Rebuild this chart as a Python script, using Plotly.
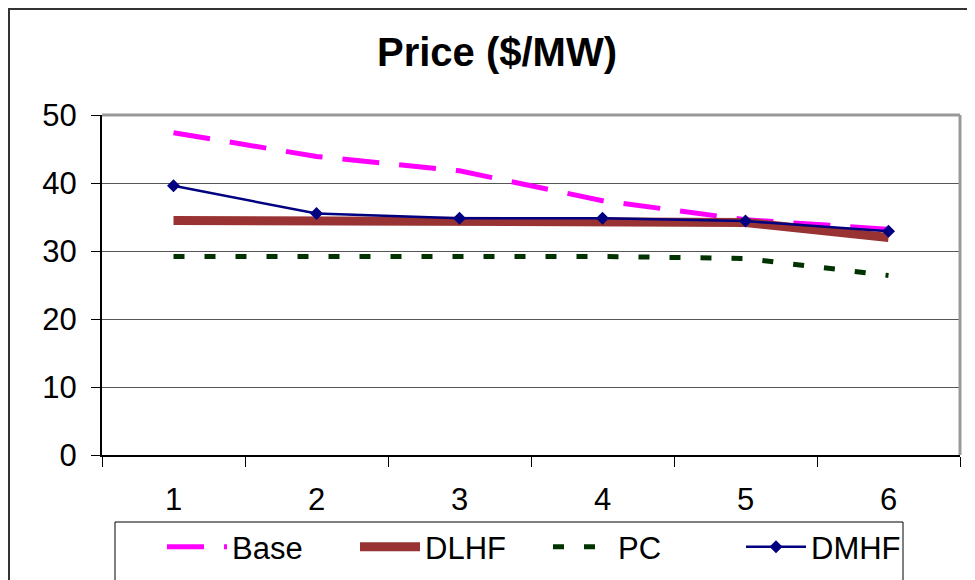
import plotly.graph_objects as go

categories = ["1", "2", "3", "4", "5", "6"]
base = [47.4, 43.9, 41.8, 37.4, 34.6, 33.2]
dlhf = [34.5, 34.5, 34.5, 34.5, 34.2, 32.0]
pc = [29.2, 29.2, 29.2, 29.2, 28.9, 26.4]
dmhf = [39.6, 35.5, 34.8, 34.8, 34.4, 32.9]
y_ticks = [0, 10, 20, 30, 40, 50]

FONT = "Liberation Sans, Arial, sans-serif"

fig = go.Figure()
fig.add_trace(go.Scatter(x=categories, y=base, name="Base", mode="lines",
                         line=dict(color="#FF00FF", width=5, dash="37px,20px")))
fig.add_trace(go.Scatter(x=categories, y=dlhf, name="DLHF", mode="lines",
                         line=dict(color="#993333", width=9)))
fig.add_trace(go.Scatter(x=categories, y=pc, name="PC", mode="lines",
                         line=dict(color="#003300", width=5, dash="11px,20px")))
fig.add_trace(go.Scatter(x=categories, y=dmhf, name="DMHF", mode="lines+markers",
                         line=dict(color="#000080", width=2.5),
                         marker=dict(symbol="diamond", size=10, color="#000080")))

# page has an 8px body margin; figure sized to fill the rest of the window
OFF = 8
W, H = 975 - OFF, 580 - OFF
L, T = 102 - OFF, 115 - OFF
R = W - (960 - OFF)
B = H - (455 - OFF)
pw, ph = W - L - R, H - T - B

def px_x(x):
    return (x - OFF - L) / pw

def px_y(y):
    return (H - B - (y - OFF)) / ph

fig.update_layout(
    width=W, height=H,
    margin=dict(l=L, r=R, t=T, b=B, autoexpand=False),
    paper_bgcolor="white", plot_bgcolor="white",
    font=dict(family=FONT, color="black", size=31),
    title=dict(text="<b>Price ($/MW)</b>", x=(497 - OFF) / W, xanchor="center",
               y=1 - (52 - OFF) / H, yanchor="middle", yref="container",
               font=dict(family=FONT, size=40, color="black")),
    xaxis=dict(type="category", range=[-0.5, 5.5], tickson="boundaries",
               ticks="outside", ticklen=10, tickcolor="black", tickwidth=1,
               showline=True, linecolor="black", linewidth=2, showgrid=False,
               ticklabelstandoff=16, tickfont=dict(size=31)),
    yaxis=dict(range=[0, 50], tickvals=y_ticks, ticks="outside", ticklen=9,
               tickcolor="black", tickwidth=1, showline=True, linecolor="black",
               linewidth=2, showgrid=True, gridcolor="#555555", gridwidth=1,
               zeroline=False, ticklabelstandoff=8, tickfont=dict(size=31)),
    legend=dict(orientation="h", x=px_x(162), y=px_y(520), xanchor="left",
                yanchor="top", bgcolor="rgba(0,0,0,0)", borderwidth=0,
                font=dict(size=31), entrywidth=118, itemwidth=60),
    showlegend=True,
    shapes=[
        # plot area top and right border
        dict(type="line", xref="paper", yref="paper", x0=0, x1=1, y0=1, y1=1,
             line=dict(color="#999999", width=3)),
        dict(type="line", xref="paper", yref="paper", x0=1, x1=1, y0=0, y1=1,
             line=dict(color="#999999", width=3)),
        # legend box
        dict(type="rect", xref="paper", yref="paper", x0=px_x(115), x1=px_x(903),
             y0=px_y(600), y1=px_y(522), line=dict(color="black", width=1)),
        # outer chart border
        dict(type="rect", xref="paper", yref="paper", x0=px_x(9), x1=px_x(1000),
             y0=px_y(600), y1=px_y(9), line=dict(color="#333333", width=2)),
    ],
)

fig.write_html("out.html")
